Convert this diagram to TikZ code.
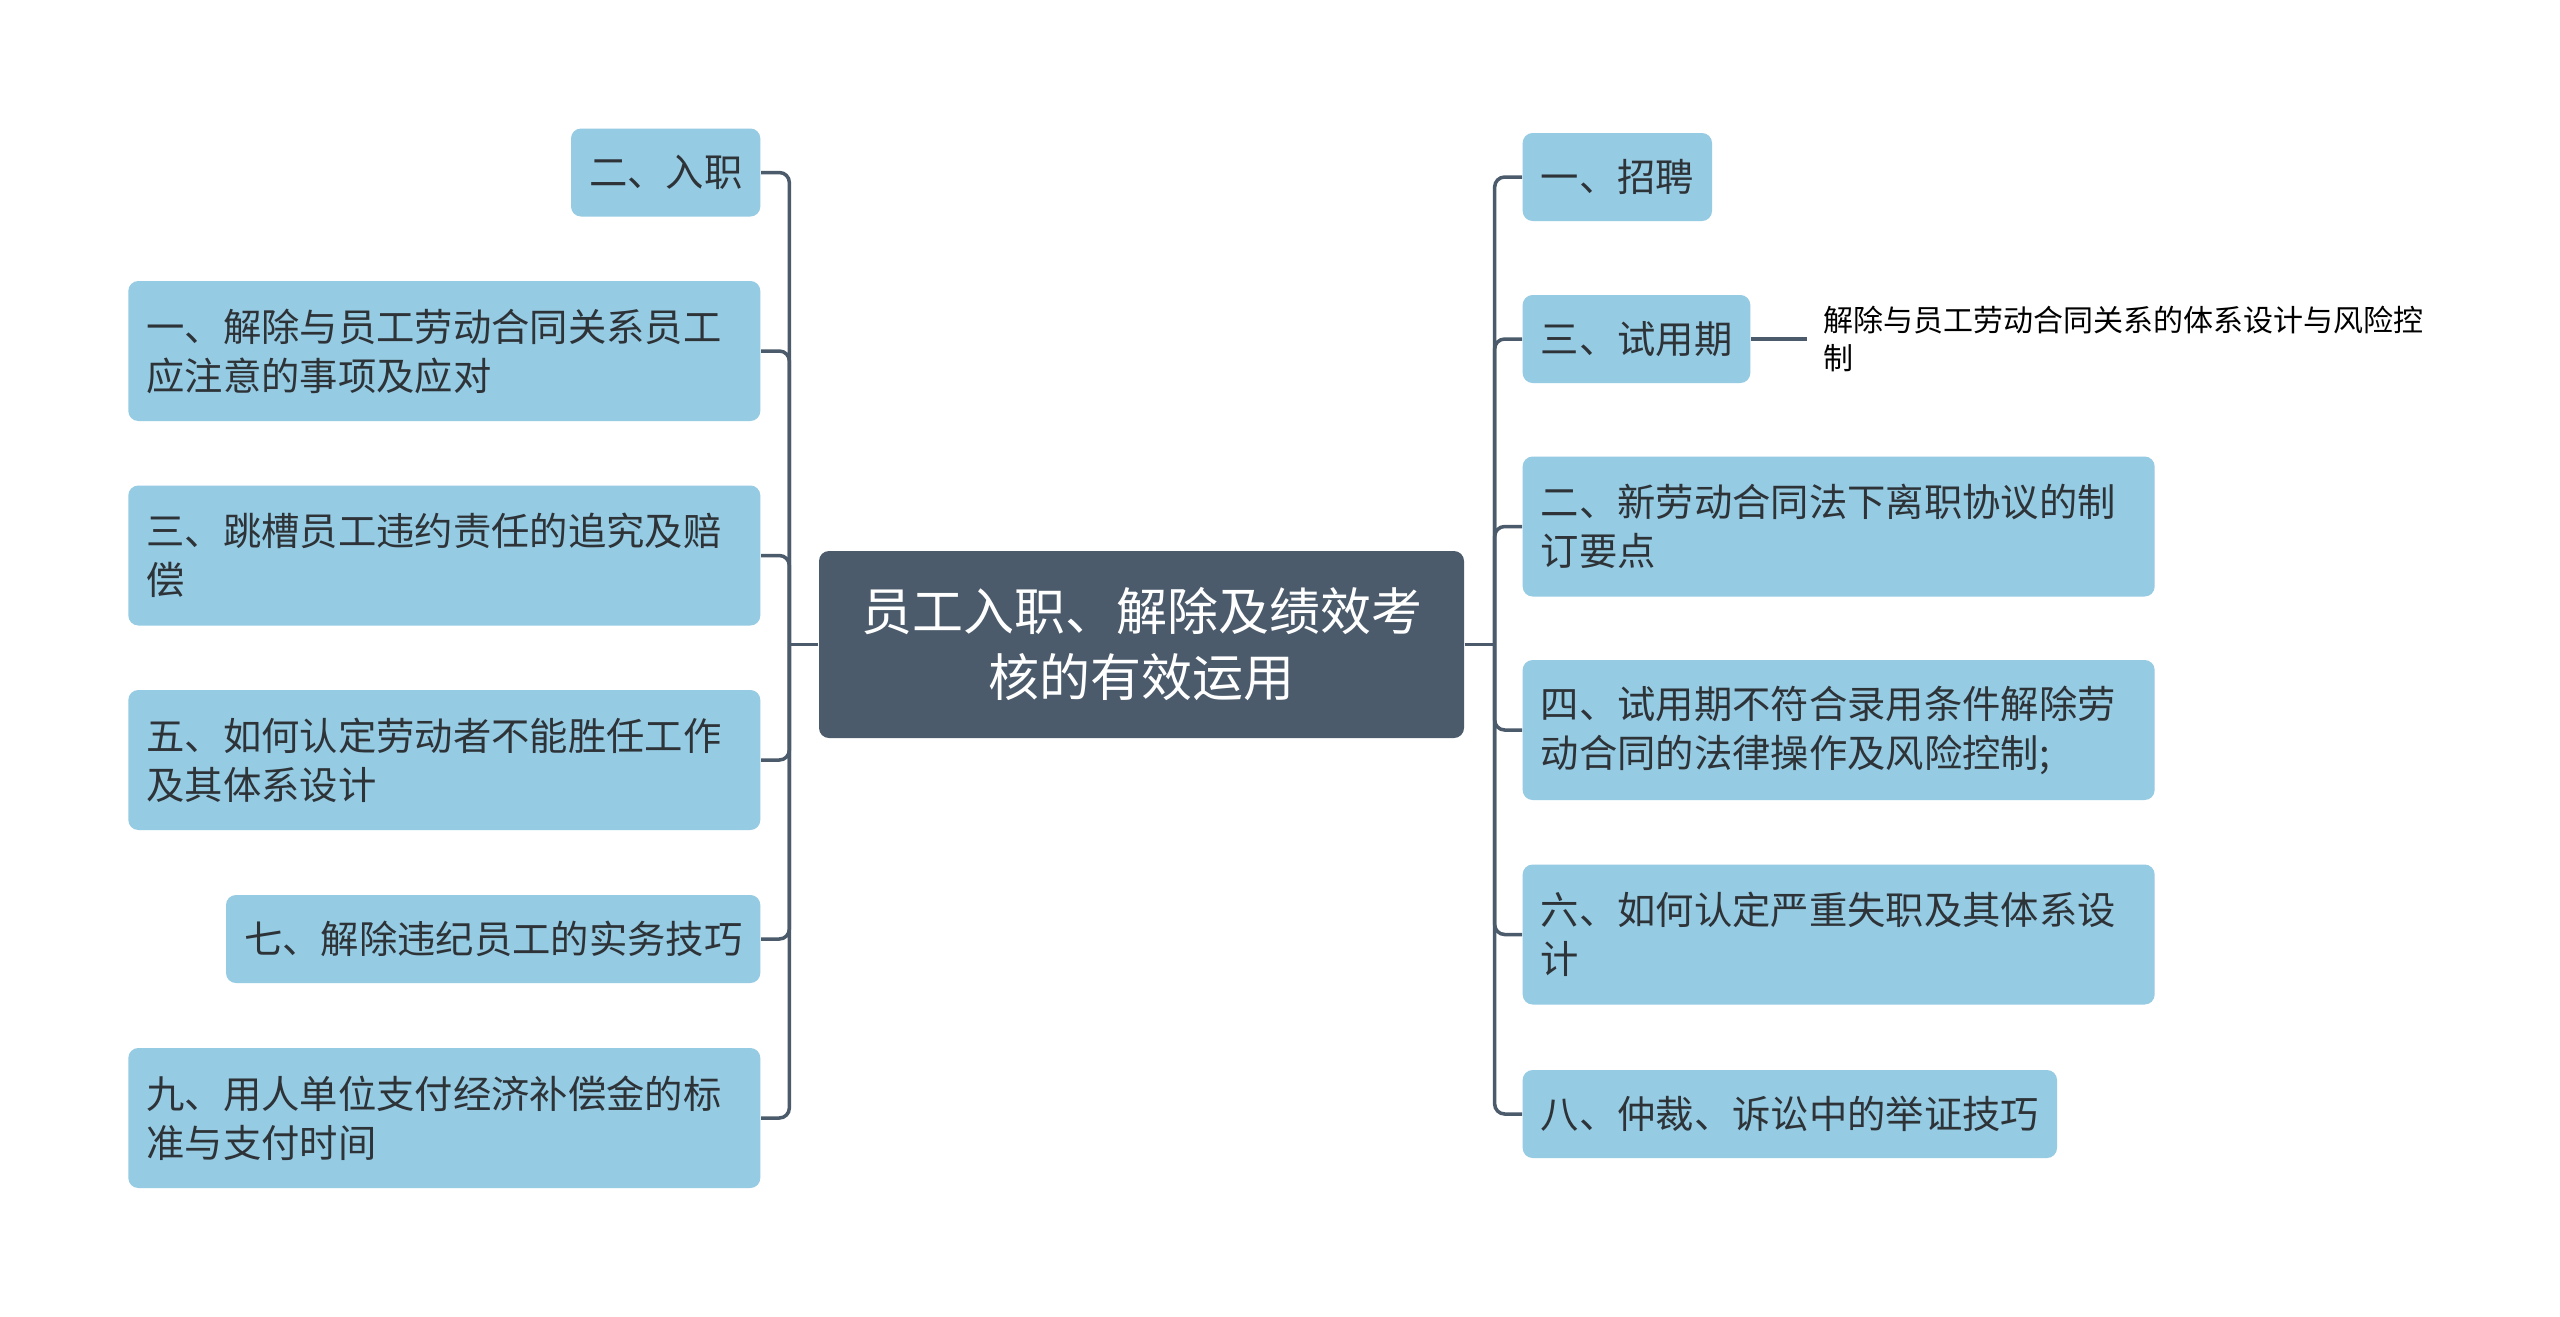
\documentclass[tikz,border=0pt]{standalone}
\usepackage{fontspec}
\setmainfont{Noto Sans CJK SC}
\definecolor{boxblue}{HTML}{95CBE3}
\definecolor{rootgray}{HTML}{4B5B6B}
\definecolor{linkgray}{HTML}{4B5B6B}
\definecolor{inkdark}{HTML}{2E3338}
\tikzset{
  topic/.style={fill=boxblue,rounded corners=3pt,text=inkdark,font=\fontsize{11.5}{14.7}\selectfont,
    inner xsep=5.4pt,inner ysep=0pt,minimum height=26.4pt,align=left},
  twoline/.style={topic,text width=178.8pt,minimum height=42pt},
  rootbox/.style={fill=rootgray,rounded corners=3pt,text=white,font=\fontsize{15.3}{19.8}\selectfont,
    minimum width=193.5pt,minimum height=56.1pt,align=center},
  leaf/.style={text=black,font=\fontsize{9}{11.4}\selectfont,text width=180pt,align=left,inner xsep=4.8pt,inner ysep=0pt},
  link/.style={draw=linkgray,line width=1.05pt,rounded corners=3pt}
}
\begin{document}
\begin{tikzpicture}[x=0.3pt,y=-0.3pt]
  \useasboundingbox[fill=white] (0,0) rectangle (2560,1316);
  % centre
  \node[rootbox] (root) at (1141.5,644.5) {员工入职、解除及绩效考\\核的有效运用};
  % left side
  \node[topic,anchor=east]   (ruzhi)    at (761,172.5) {二、入职};
  \node[twoline,anchor=east] (jiechu)   at (761,351)   {一、解除与员工劳动合同关系员工\\应注意的事项及应对};
  \node[twoline,anchor=east] (tiaocao)  at (761,555.5) {三、跳槽员工违约责任的追究及赔\\偿};
  \node[twoline,anchor=east] (shengren) at (761,760)   {五、如何认定劳动者不能胜任工作\\及其体系设计};
  \node[topic,anchor=east]   (weiji)    at (761,939)   {七、解除违纪员工的实务技巧};
  \node[twoline,anchor=east] (buchang)  at (761,1118)  {九、用人单位支付经济补偿金的标\\准与支付时间};
  % right side
  \node[topic,anchor=west]   (zhaopin)  at (1522,177)  {一、招聘};
  \node[topic,anchor=west]   (shiyong)  at (1522,339)  {三、试用期};
  \node[twoline,anchor=west] (lizhi)    at (1522,526.5) {二、新劳动合同法下离职协议的制\\订要点};
  \node[twoline,anchor=west] (luyong)   at (1522,730)  {四、试用期不符合录用条件解除劳\\动合同的法律操作及风险控制;};
  \node[twoline,anchor=west] (shizhi)   at (1522,934.5) {六、如何认定严重失职及其体系设\\计};
  \node[topic,anchor=west]   (juzheng)  at (1522,1114) {八、仲裁、诉讼中的举证技巧};
  \node[leaf,anchor=west]    (tixi)     at ([xshift=16.8pt]shiyong.east) {解除与员工劳动合同关系的体系设计与风险控\\制};
  % connectors
  \coordinate (lj) at ([xshift=-8.7pt]root.west);
  \coordinate (rj) at ([xshift=9pt]root.east);
  \draw[link] (root.west) -- (lj);
  \draw[link] (root.east) -- (rj);
  \foreach \n in {ruzhi,jiechu,tiaocao,shengren,weiji,buchang}
    \draw[link] (lj) |- (\n.east);
  \foreach \n in {zhaopin,shiyong,lizhi,luyong,shizhi,juzheng}
    \draw[link] (rj) |- (\n.west);
  \draw[link,line width=1.2pt] (shiyong.east) -- (tixi.west);
\end{tikzpicture}
\end{document}
